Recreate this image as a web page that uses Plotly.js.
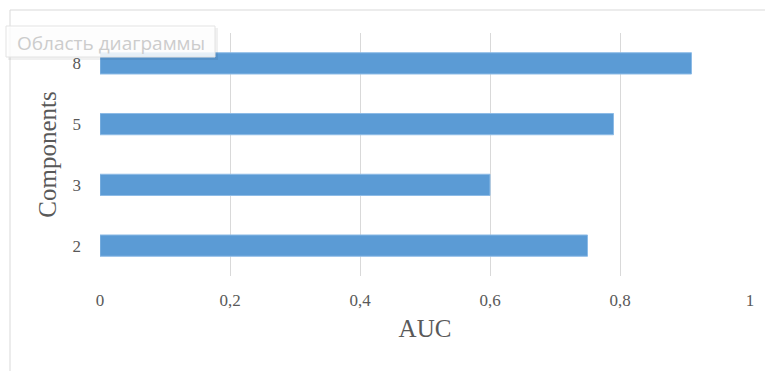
<!DOCTYPE html>
<html>
<head>
<meta charset="utf-8">
<script src="https://cdn.plot.ly/plotly-3.0.1.min.js"></script>
<style>html,body{margin:0;padding:0;background:#fff;}#chart{width:765px;height:371px;}</style>
</head>
<body>
<div id="chart"></div>
<script>
const components = ["2", "3", "5", "8"];
const aucValues = [0.75, 0.60, 0.79, 0.91];
const xTicks = [0, 0.2, 0.4, 0.6, 0.8, 1];

const L = 100, R = 15, T = 33, B = 95, W = 765, H = 371;
const pw = W - L - R, ph = H - T - B;
const px = v => (v - L) / pw;
const py = v => (H - B - v) / ph;

const trace = {
  type: 'bar',
  orientation: 'h',
  y: components,
  x: aucValues,
  marker: {color: '#5b9bd5', line: {color: '#8dbbe6', width: 1}},
  hoverinfo: 'none'
};

const layout = {
  width: W, height: H,
  margin: {l: L, r: R, t: T, b: B, pad: 0},
  paper_bgcolor: '#fff', plot_bgcolor: '#fff',
  separators: ', ',
  bargap: 0.65,
  showlegend: false,
  xaxis: {
    range: [0, 1], tickvals: xTicks, ticktext: xTicks.map(v => String(v).replace('.', ',')),
    showgrid: true, gridcolor: '#d9d9d9', gridwidth: 1,
    zeroline: false, showline: false, ticks: '',
    ticklabelstandoff: 12,
    tickfont: {family: 'Liberation Serif, serif', size: 17, color: '#595959'},
    title: {text: 'AUC', font: {family: 'Liberation Serif, serif', size: 25, color: '#595959'}, standoff: 10},
    fixedrange: true
  },
  yaxis: {
    type: 'category', categoryorder: 'array', categoryarray: components,
    range: [-0.5, 3.5],
    showgrid: false, zeroline: false, showline: false, ticks: '',
    ticklabelstandoff: 18,
    tickfont: {family: 'Liberation Serif, serif', size: 17, color: '#595959'},
    title: {text: 'Components', font: {family: 'Liberation Serif, serif', size: 25, color: '#595959'}, standoff: 8},
    fixedrange: true
  },
  shapes: [
    {type: 'rect', xref: 'paper', yref: 'paper', x0: px(10), x1: px(790), y0: py(10), y1: py(400),
     line: {color: '#d9d9d9', width: 1}, fillcolor: 'rgba(0,0,0,0)', layer: 'below'},
    {type: 'rect', xref: 'paper', yref: 'paper', x0: px(8), x1: px(218), y0: py(28), y1: py(60),
     line: {color: 'rgba(0,0,0,0)', width: 0}, fillcolor: 'rgba(0,0,0,0.06)', layer: 'above'},
    {type: 'rect', xref: 'paper', yref: 'paper', x0: px(6), x1: px(215), y0: py(26), y1: py(57),
     line: {color: '#e3e3e3', width: 1}, fillcolor: 'rgba(255,255,255,0.85)', layer: 'above'}
  ],
  annotations: [
    {xref: 'paper', yref: 'paper', x: px(111), y: py(43), text: 'Область диаграммы', showarrow: false,
     font: {family: 'Open Sans, sans-serif', size: 19, color: '#cccccc'}, xanchor: 'center', yanchor: 'middle'}
  ]
};

Plotly.newPlot('chart', [trace], layout, {displayModeBar: false, staticPlot: true});
</script>
</body>
</html>
